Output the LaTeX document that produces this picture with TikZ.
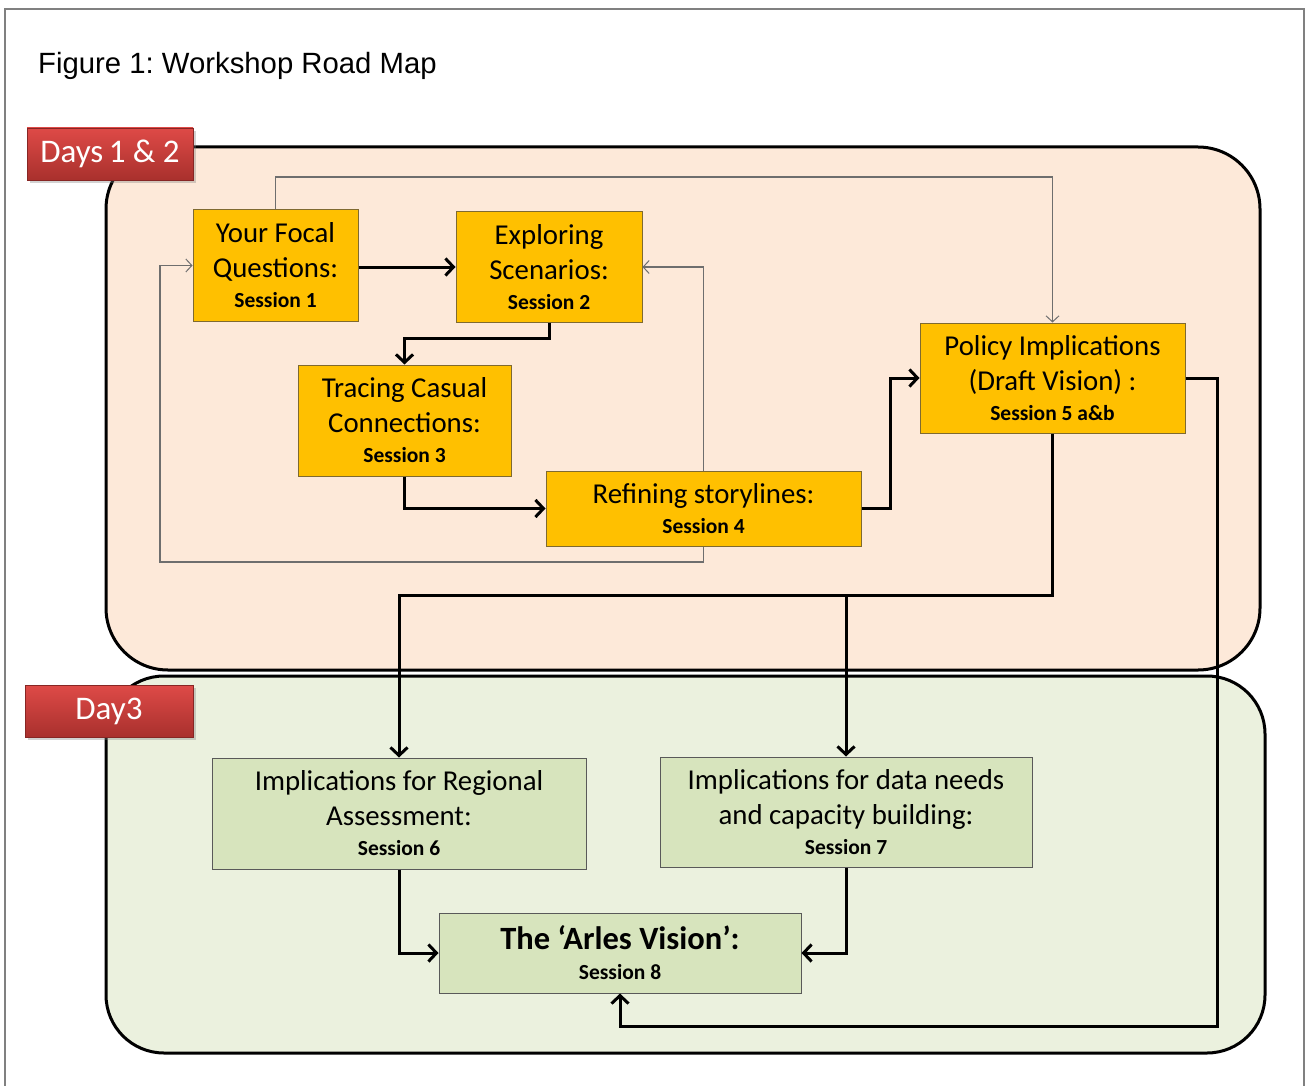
\documentclass[tikz,border=0pt]{standalone}
\usepackage{fontspec}
\setmainfont{Carlito}
\newfontfamily\arialfont{Liberation Sans}
\usetikzlibrary{arrows.meta,shadows}
\definecolor{orangebox}{HTML}{FFC000}
\definecolor{orangeedge}{HTML}{7F6A30}
\definecolor{greenbox}{HTML}{D7E4BD}
\definecolor{peachbg}{HTML}{FDE9D9}
\definecolor{greenbg}{HTML}{EBF1DE}
\definecolor{thingray}{HTML}{6E6E6E}
\definecolor{framegray}{HTML}{808080}
\definecolor{redtop}{HTML}{DE4A47}
\definecolor{redbot}{HTML}{A9302D}
\newcommand{\sessfont}{\fontsize{21.5}{24}\selectfont\bfseries}
\begin{document}
\frenchspacing
\begin{tikzpicture}[x=1pt,y=-1pt,
  orangestep/.style={draw=orangeedge,line width=1pt,fill=orangebox,inner sep=0pt,align=center,
    font=\fontsize{28.8}{35}\selectfont},
  greenstep/.style={draw=black!65,line width=1pt,fill=greenbox,inner sep=0pt,align=center,
    font=\fontsize{28.8}{35}\selectfont},
  thick arrow/.style={line width=3pt,-{Straight Barb[length=8pt,width=17pt,line width=3pt]}},
  thin arrow/.style={draw=thingray,line width=1.3pt,-{Straight Barb[length=6pt,width=13pt,line width=1pt]}},
  badge/.style={inner sep=0pt,top color=redtop,bottom color=redbot,draw=redbot!80!black,line width=0.6pt,
    text=white,font=\fontsize{33}{36}\selectfont,
    drop shadow={shadow xshift=3pt,shadow yshift=-3pt,opacity=0.35}},
  daypanel/.style={draw=black,line width=3pt,rounded corners=62pt}
]
\useasboundingbox (0,0) rectangle (1306,1086);
\fill[white] (0,0) rectangle (1306,1086);
% outer frame
\draw[framegray,line width=1.5pt] (5,1090) -- (5,9) -- (1304,9) -- (1304,1090);
% title
\node[anchor=base west,inner sep=0pt,font=\arialfont\fontsize{29.3}{32}\selectfont] (title) at (38,74) {Figure 1: Workshop Road Map};

% day panels
\draw[daypanel,fill=peachbg] (106,147) rectangle (1260,670);
\draw[daypanel,fill=greenbg,rounded corners=58pt] (106,676) rectangle (1265,1053);

% nodes
\node[orangestep,minimum width=165pt,minimum height=111pt] (focal) at (275.5,265.5)
  {Your Focal\\Questions:\\[-5pt]{\sessfont Session 1}};
\node[orangestep,minimum width=186pt,minimum height=110pt] (explore) at (549,267)
  {Exploring\\Scenarios:\\[-5pt]{\sessfont Session 2}};
\node[orangestep,minimum width=213pt,minimum height=111pt] (trace) at (404.5,420.5)
  {Tracing Casual\\Connections:\\[-5pt]{\sessfont Session 3}};
\node[orangestep,minimum width=315pt,minimum height=75pt] (refine) at (703.5,508.5)
  {Refining storylines:\\[-5pt]{\sessfont Session 4}};
\node[orangestep,minimum width=265pt,minimum height=110pt] (policy) at (1052.5,378)
  {Policy Implications\\(Draft Vision) :\\[-5pt]{\sessfont Session 5 a\&b}};
\node[greenstep,minimum width=374pt,minimum height=111pt] (regional) at (399,813.5)
  {Implications for Regional\\Assessment:\\[-5pt]{\sessfont Session 6}};
\node[greenstep,minimum width=372pt,minimum height=110pt] (data) at (846,812)
  {Implications for data needs\\and capacity building:\\[-5pt]{\sessfont Session 7}};
\node[greenstep,minimum width=362pt,minimum height=80pt] (arles) at (620,953)
  {{\fontsize{32.5}{36}\selectfont\bfseries The ‘Arles Vision’:}\\[-5pt]{\sessfont Session 8}};

% helper coordinates
\coordinate (topline) at (0,177);
\coordinate (bendA) at (0,338);
\coordinate (loopbottom) at (0,562);
\coordinate (loopleft) at (160,0);
\coordinate (bendB) at (890,0);
\coordinate (splitY) at (0,595);
\coordinate (rightX) at (1217,0);
\coordinate (bottomY) at (0,1026);

% thin connectors
\draw[thin arrow] (focal.north) -- (focal.north |- topline) -| (policy.north);
\draw[thin arrow] (refine.north) -- (refine.north |- explore.east) -- (explore.east);
\draw[thin arrow] (refine.south) -- (refine.south |- loopbottom) -- (loopleft |- loopbottom) -- (loopleft |- focal.west) -- (focal.west);

% thick connectors
\draw[thick arrow] (focal.east |- explore.west) -- (explore.west);
\draw[thick arrow] (explore.south) -- (explore.south |- bendA) -| (trace.north);
\draw[thick arrow] (trace.south) |- (refine.west);
\draw[thick arrow] (refine.east) -- (bendB |- refine.east) -- (bendB |- policy.west) -- (policy.west);
\draw[thick arrow] (policy.south) -- (policy.south |- splitY) -| (regional.north);
\draw[thick arrow] (data.north |- splitY) -- (data.north);
\draw[thick arrow] (policy.east) -- (rightX |- policy.east) -- (rightX |- bottomY) -| (arles.south);
\draw[thick arrow] (regional.south) |- (arles.west);
\draw[thick arrow] (data.south) |- (arles.east);

% badges
\node[badge,minimum width=166pt,minimum height=52pt] (badge1) at (110,154) {Days\,1 \& 2};
\node[badge,minimum width=168pt,minimum height=52pt] (badge2) at (109,711) {Day3};
\end{tikzpicture}
\end{document}
